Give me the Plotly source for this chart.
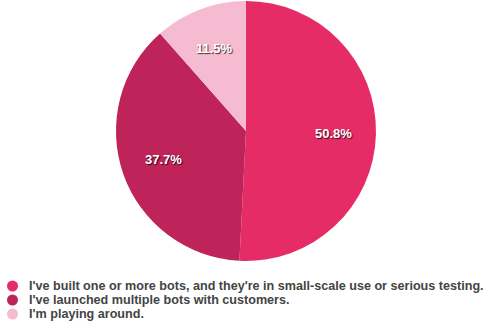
import math
import plotly.graph_objects as go

labels = [
    "I've built one or more bots, and they're in small-scale use or serious testing.",
    "I've launched multiple bots with customers.",
    "I'm playing around.",
]
values = [50.8, 37.7, 11.5]
colors = ["#E62C67", "#BE2359", "#F5BCD1"]

W, H = 491, 322
cx, cy, r = 246, 131, 130

fig = go.Figure()
fig.add_trace(go.Pie(
    labels=labels, values=values, sort=False, direction="clockwise", rotation=0,
    marker=dict(colors=colors, line=dict(width=0)),
    textinfo="none",
    domain=dict(x=[(cx - r) / W, (cx + r) / W], y=[(H - cy - r) / H, (H - cy + r) / H]),
    showlegend=False, hoverinfo="label+percent",
))

# slice labels placed at 0.67 radius along each slice's mid-angle
total = sum(values)
cum = 0.0
for v in values:
    mid = (cum + v / 2) / total * 2 * math.pi
    cum += v
    d = 0.675 * r
    px = cx + math.sin(mid) * d
    py = cy - math.cos(mid) * d
    fig.add_annotation(x=px / W, y=(H - py) / H, xref="paper", yref="paper",
                       xanchor="center", yanchor="middle", showarrow=False,
                       text=f"{v:.1f}%",
                       font=dict(family="Liberation Sans", size=13, color="white", weight="bold",
                                 shadow="1px 1px 1px rgba(0,0,0,0.75)"))

ys = [286, 300, 314]
for lab, col, yy in zip(labels, colors, ys):
    fig.add_shape(type="circle", xref="paper", yref="paper",
                  x0=(12.5 - 5.5) / W, x1=(12.5 + 5.5) / W,
                  y0=(H - yy - 5.5) / H, y1=(H - yy + 5.5) / H,
                  fillcolor=col, line=dict(width=0))
    fig.add_annotation(x=27 / W, y=(H - yy) / H, xref="paper", yref="paper",
                       xanchor="left", yanchor="middle", showarrow=False, text=lab,
                       font=dict(family="Liberation Sans", size=12.6, color="#444444", weight="bold"))

fig.update_layout(width=W, height=H, margin=dict(l=0, r=0, t=0, b=0),
                  paper_bgcolor="white", plot_bgcolor="white")
fig.write_html("out.html")
